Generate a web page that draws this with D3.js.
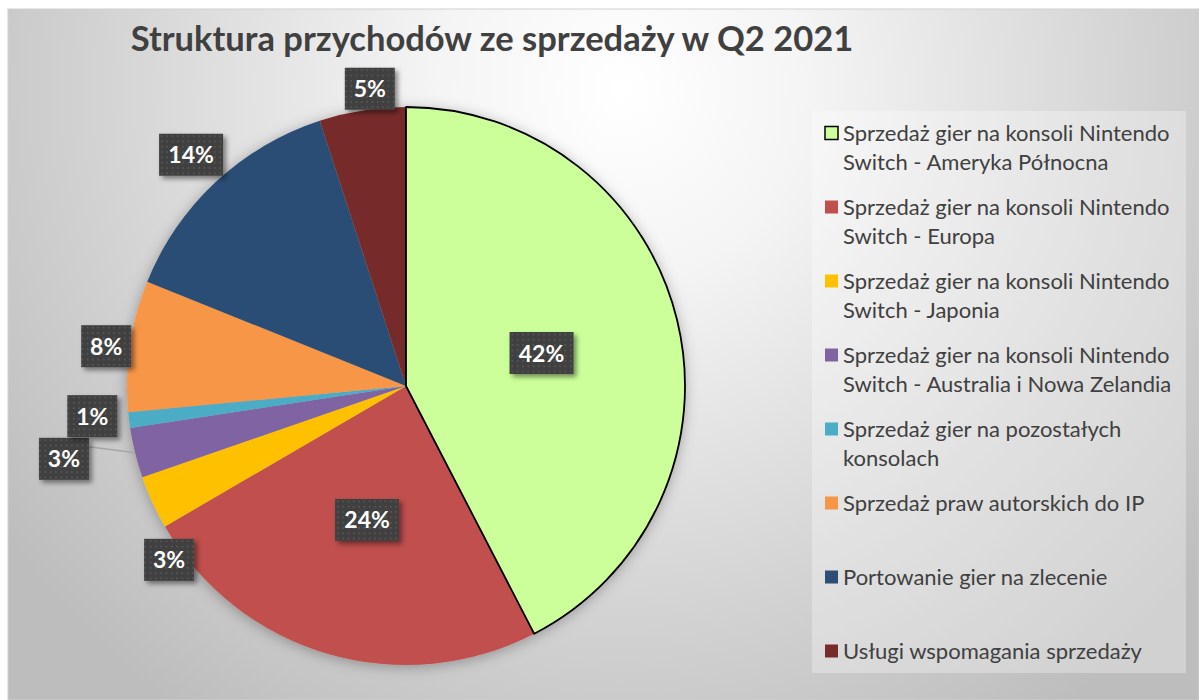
<!DOCTYPE html>
<html>
<head>
<meta charset="utf-8">
<script src="https://cdn.jsdelivr.net/npm/d3@7"></script>
<style>
  body { margin: 0; background: #fff; }
  svg { display: block; }
</style>
</head>
<body>
<svg id="chart"></svg>
<script>
// categories (legend order = slice order, clockwise from 12 o'clock)
const categories = [
    "Sprzedaż gier na konsoli Nintendo Switch - Ameryka Północna",
    "Sprzedaż gier na konsoli Nintendo Switch - Europa",
    "Sprzedaż gier na konsoli Nintendo Switch - Japonia",
    "Sprzedaż gier na konsoli Nintendo Switch - Australia i Nowa Zelandia",
    "Sprzedaż gier na pozostałych konsolach",
    "Sprzedaż praw autorskich do IP",
    "Portowanie gier na zlecenie",
    "Usługi wspomagania sprzedaży"
];
// legend text split as it wraps in the original
const legendLines = [
    ["Sprzedaż gier na konsoli Nintendo", "Switch - Ameryka Północna"],
    ["Sprzedaż gier na konsoli Nintendo", "Switch - Europa"],
    ["Sprzedaż gier na konsoli Nintendo", "Switch - Japonia"],
    ["Sprzedaż gier na konsoli Nintendo", "Switch - Australia i Nowa Zelandia"],
    ["Sprzedaż gier na pozostałych", "konsolach"],
    ["Sprzedaż praw autorskich do IP"],
    ["Portowanie gier na zlecenie"],
    ["Usługi wspomagania sprzedaży"]
];
// share of revenue, %
const shares = [42.4, 24.2, 3.1, 2.9, 0.9, 7.6, 13.9, 5.0];
const colors = ["#ccff99", "#c0504d", "#ffc000", "#8064a2", "#4bacc6", "#f79646", "#2c4d75", "#772c2a"];

const W = 1199, H = 700;
const cx = 406, cy = 386, R = 279;

// small nudges for outside labels, like the original's best-fit placement
const labelNudge = [[0, 0], [0, 0], [43, 47], [-43, 0], [-8, -7], [5, 4], [0, -9], [12, 3]];

const svg = d3.select("#chart").attr("width", W).attr("height", H);
const defs = svg.append("defs");

const bg = defs.append("radialGradient")
    .attr("id", "bg")
    .attr("gradientUnits", "userSpaceOnUse")
    .attr("cx", 620).attr("cy", 90).attr("r", 760);
bg.append("stop").attr("offset", "0").attr("stop-color", "#ffffff");
bg.append("stop").attr("offset", "0.25").attr("stop-color", "#f4f4f4");
bg.append("stop").attr("offset", "0.7").attr("stop-color", "#d2d2d2");
bg.append("stop").attr("offset", "1").attr("stop-color", "#bdbdbd");

// dotted texture for the label boxes
const pat = defs.append("pattern")
    .attr("id", "dots")
    .attr("patternUnits", "userSpaceOnUse")
    .attr("width", 5.3).attr("height", 5.3);
pat.append("rect").attr("width", 5.3).attr("height", 5.3).attr("fill", "#404040");
pat.append("circle").attr("cx", 2.6).attr("cy", 2.6).attr("r", 0.9).attr("fill", "#5c5c5c");

const shadow = defs.append("filter").attr("id", "shadow")
    .attr("x", "-30%").attr("y", "-30%").attr("width", "160%").attr("height", "160%");
shadow.append("feDropShadow")
    .attr("dx", 3).attr("dy", 3).attr("stdDeviation", 2.5)
    .attr("flood-color", "#000").attr("flood-opacity", 0.45);

const pieShadow = defs.append("filter").attr("id", "pieShadow")
    .attr("x", "-20%").attr("y", "-20%").attr("width", "140%").attr("height", "140%");
pieShadow.append("feDropShadow")
    .attr("dx", 0).attr("dy", 2).attr("stdDeviation", 7)
    .attr("flood-color", "#000").attr("flood-opacity", 0.3);

svg.append("rect")
    .attr("x", 8).attr("y", 9)
    .attr("width", W - 8).attr("height", H - 9)
    .attr("fill", "url(#bg)")
    .attr("stroke", "#cfcfcf");

svg.append("text")
    .attr("x", 492).attr("y", 51)
    .attr("text-anchor", "middle")
    .attr("font-family", "Lato, 'Open Sans', sans-serif")
    .attr("font-weight", "bold")
    .attr("font-size", "34.5px")
    .attr("fill", "#404040")
    .text("Struktura przychodów ze sprzedaży w Q2 2021");

// pie
const pie = d3.pie().sort(null).value(d => d);
const arcs = pie(shares);
const arc = d3.arc().innerRadius(0).outerRadius(R);
const inner = d3.arc().innerRadius(R * 0.5).outerRadius(R * 0.5);

const g = svg.append("g").attr("transform", `translate(${cx}, ${cy})`);

g.append("g").attr("filter", "url(#pieShadow)")
    .selectAll("path")
    .data(arcs)
    .join("path")
    .attr("d", arc)
    .attr("fill", (d, i) => colors[i]);

// first slice is outlined in black
g.append("path")
    .attr("d", arc(arcs[0]))
    .attr("fill", "none")
    .attr("stroke", "#000")
    .attr("stroke-width", 1.8)
    .attr("stroke-linejoin", "round");

// labels
const labelFont = "Lato, 'Open Sans', sans-serif";
const boxH = 42;
const labels = g.append("g");

arcs.forEach((d, i) => {
    const txt = Math.round(d.value) + "%";
    const boxW = txt.length === 3 ? 64 : 50;
    const mid = (d.startAngle + d.endAngle) / 2;
    const s = Math.sin(mid), c = Math.cos(mid);
    let px, py;
    const outside = d.value < 20;
    if (!outside) {
        [px, py] = inner.centroid(d);
    } else {
        px = (R + 4) * s + boxW / 2 * s + labelNudge[i][0];
        py = -(R + 4) * c - boxH / 2 * c + labelNudge[i][1];
    }

    // leader line when the label was pushed away from its slice
    const nx = labelNudge[i][0], ny = labelNudge[i][1];
    if (outside && Math.hypot(nx, ny) > 30 && nx < 0) {
        labels.append("line")
            .attr("x1", R * s).attr("y1", -R * c)
            .attr("x2", px + boxW / 2).attr("y2", py - 12)
            .attr("stroke", "#a6a6a6")
            .attr("stroke-width", 1.5);
    }

    const lg = labels.append("g").attr("transform", `translate(${px}, ${py})`);
    lg.append("rect")
        .attr("x", -boxW / 2).attr("y", -boxH / 2)
        .attr("width", boxW).attr("height", boxH)
        .attr("fill", "url(#dots)")
        .attr("filter", "url(#shadow)");
    lg.append("text")
        .attr("y", 8.5)
        .attr("text-anchor", "middle")
        .attr("font-family", labelFont)
        .attr("font-weight", "bold")
        .attr("font-size", "23px")
        .attr("fill", "#fff")
        .text(txt);
});

// legend
svg.append("rect")
    .attr("x", 812).attr("y", 111)
    .attr("width", 374).attr("height", 562)
    .attr("fill", "#fff")
    .attr("fill-opacity", 0.3);

const legend = svg.append("g").attr("transform", "translate(825, 133)");
const rowStep = 74, lineStep = 29;

legendLines.forEach((lines, i) => {
    const row = legend.append("g").attr("transform", `translate(0, ${i * rowStep})`);
    row.append("rect")
        .attr("x", 0).attr("y", -6.5)
        .attr("width", 13).attr("height", 13)
        .attr("fill", colors[i])
        .attr("stroke", i === 0 ? "#000" : "none")
        .attr("stroke-width", 1.5);
    lines.forEach((t, j) => {
        row.append("text")
            .attr("x", 18)
            .attr("y", j * lineStep + 7.5)
            .attr("font-family", labelFont)
            .attr("font-size", "22px")
            .attr("fill", "#404040")
            .text(t);
    });
});
</script>
</body>
</html>
